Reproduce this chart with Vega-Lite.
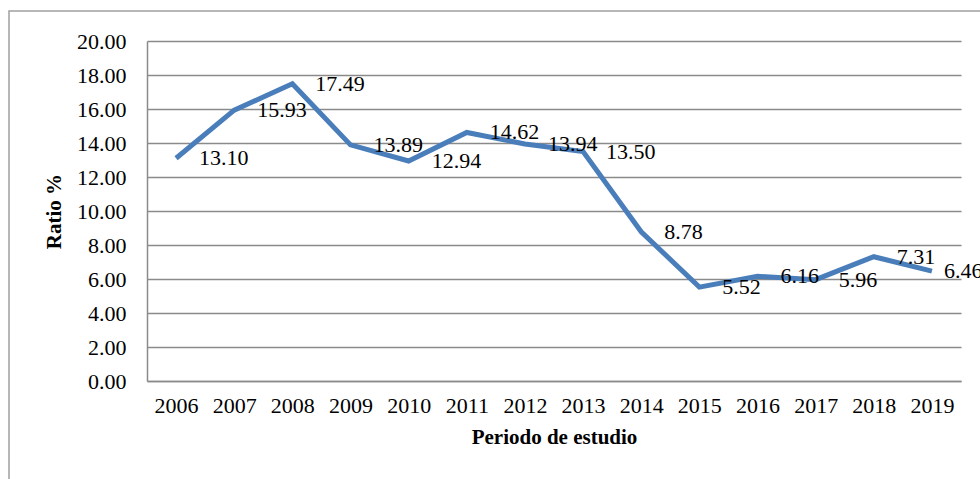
{
  "$schema": "https://vega.github.io/schema/vega-lite/v6.json",
  "width": 974,
  "height": 472,
  "padding": {"left": 9, "top": 11, "right": -3, "bottom": -4},
  "autosize": {"type": "none"},
  "background": "white",
  "config": {
    "view": {"stroke": "#a0a0a0", "strokeWidth": 1.5},
    "font": "Liberation Serif"
  },
  "data": {
    "values": [
      {"year": "2006", "ratio": 13.10},
      {"year": "2007", "ratio": 15.93},
      {"year": "2008", "ratio": 17.49},
      {"year": "2009", "ratio": 13.89},
      {"year": "2010", "ratio": 12.94},
      {"year": "2011", "ratio": 14.62},
      {"year": "2012", "ratio": 13.94},
      {"year": "2013", "ratio": 13.50},
      {"year": "2014", "ratio": 8.78},
      {"year": "2015", "ratio": 5.52},
      {"year": "2016", "ratio": 6.16},
      {"year": "2017", "ratio": 5.96},
      {"year": "2018", "ratio": 7.31},
      {"year": "2019", "ratio": 6.46}
    ]
  },
  "encoding": {
    "x": {
      "field": "year",
      "type": "ordinal",
      "scale": {"type": "point", "range": [138, 952], "padding": 0.5},
      "axis": {
        "orient": "bottom",
        "offset": -102,
        "grid": false,
        "domain": true,
        "domainColor": "#8a8a8a",
        "domainWidth": 1.5,
        "ticks": false,
        "tickSize": 0,
        "labelAngle": 0,
        "labelPadding": 14,
        "labelFont": "Liberation Serif",
        "labelFontSize": 22,
        "labelColor": "#000000",
        "title": "Periodo de estudio",
        "titleFont": "Liberation Serif",
        "titleFontSize": 21,
        "titleFontWeight": "bold",
        "titleColor": "#000000",
        "titlePadding": 10
      }
    },
    "y": {
      "field": "ratio",
      "type": "quantitative",
      "scale": {"domain": [0, 20], "range": [370, 30], "nice": false, "zero": true},
      "axis": {
        "orient": "left",
        "offset": -138,
        "values": [0, 2, 4, 6, 8, 10, 12, 14, 16, 18, 20],
        "format": ".2f",
        "grid": true,
        "gridColor": "#8a8a8a",
        "gridWidth": 1.5,
        "domain": true,
        "domainColor": "#8a8a8a",
        "domainWidth": 1.5,
        "ticks": false,
        "tickSize": 0,
        "labelPadding": 21,
        "labelFont": "Liberation Serif",
        "labelFontSize": 22,
        "labelColor": "#000000",
        "title": "Ratio %",
        "titleFont": "Liberation Serif",
        "titleFontSize": 21,
        "titleFontWeight": "bold",
        "titleColor": "#000000",
        "titlePadding": 12
      }
    }
  },
  "layer": [
    {
      "mark": {"type": "line", "color": "#4A7EBB", "strokeWidth": 5, "strokeJoin": "miter"}
    },
    {
      "transform": [{"filter": "datum.year != '2019'"}],
      "mark": {
        "type": "text",
        "align": "left",
        "baseline": "middle",
        "dx": 23,
        "font": "Liberation Serif",
        "fontSize": 22,
        "color": "#000000"
      },
      "encoding": {
        "text": {"field": "ratio", "type": "quantitative", "format": ".2f"}
      }
    },
    {
      "transform": [{"filter": "datum.year == '2019'"}],
      "mark": {
        "type": "text",
        "align": "left",
        "baseline": "middle",
        "dx": 12,
        "font": "Liberation Serif",
        "fontSize": 22,
        "color": "#000000"
      },
      "encoding": {
        "text": {"field": "ratio", "type": "quantitative", "format": ".2f"}
      }
    }
  ]
}
